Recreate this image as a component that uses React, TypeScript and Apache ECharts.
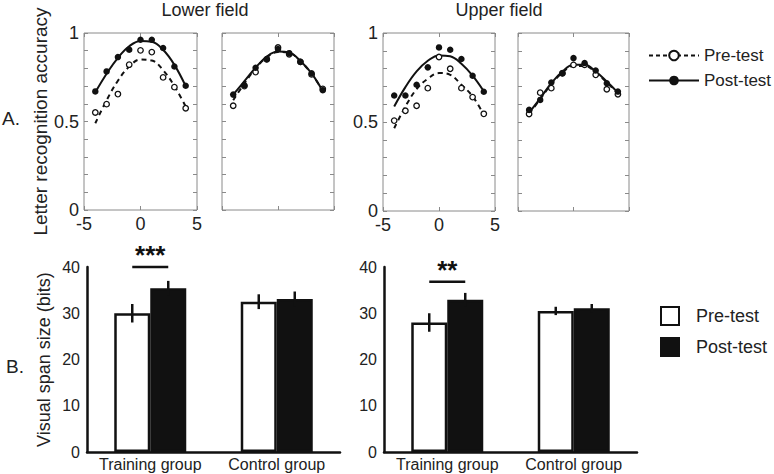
import React, { useEffect, useRef } from 'react';
import * as echarts from 'echarts';

const FONT = '"Liberation Sans", Arial, Helvetica, sans-serif';

// ---- Panel A data: letter recognition accuracy vs letter position ----
const letterPositions = [-4, -3, -2, -1, 0, 1, 2, 3, 4];

// Lower field, training group
const lowerTrainPre = [0.551, 0.598, 0.655, 0.821, 0.902, 0.892, 0.749, 0.694, 0.575];
const lowerTrainPost = [0.670, 0.783, 0.864, 0.906, 0.962, 0.962, 0.915, 0.811, 0.702];
const lowerTrainPreFit = [0.49, 0.62, 0.73, 0.81, 0.85, 0.845, 0.79, 0.70, 0.585];
const lowerTrainPostFit = [0.665, 0.77, 0.86, 0.925, 0.955, 0.95, 0.905, 0.82, 0.70];

// Lower field, control group
const lowerCtrlPre = [0.589, 0.700, 0.779, 0.852, 0.918, 0.880, 0.837, 0.766, 0.684];
const lowerCtrlPost = [0.652, 0.705, 0.804, 0.852, 0.909, 0.886, 0.837, 0.772, 0.677];
const lowerCtrlPreFit = [0.62, 0.715, 0.80, 0.862, 0.893, 0.888, 0.840, 0.770, 0.672];
const lowerCtrlPostFit = [0.652, 0.728, 0.804, 0.867, 0.895, 0.89, 0.842, 0.772, 0.671];

// Upper field, training group
const upperTrainPre = [0.508, 0.563, 0.591, 0.690, 0.865, 0.799, 0.690, 0.640, 0.546];
const upperTrainPost = [0.649, 0.649, 0.709, 0.807, 0.919, 0.906, 0.854, 0.760, 0.670];
const upperTrainPreFit = [0.465, 0.587, 0.685, 0.743, 0.775, 0.765, 0.709, 0.644, 0.540];
const upperTrainPostFit = [0.587, 0.696, 0.784, 0.844, 0.874, 0.869, 0.827, 0.760, 0.672];

// Upper field, control group
const upperCtrlPre = [0.545, 0.665, 0.690, 0.774, 0.821, 0.821, 0.765, 0.684, 0.656];
const upperCtrlPost = [0.568, 0.624, 0.722, 0.774, 0.859, 0.831, 0.789, 0.718, 0.671];
const upperCtrlPreFit = [0.545, 0.628, 0.712, 0.778, 0.815, 0.815, 0.779, 0.722, 0.660];
const upperCtrlPostFit = [0.553, 0.633, 0.718, 0.784, 0.821, 0.821, 0.784, 0.727, 0.665];

// ---- Panel B data: visual span size (bits) ----
const groups = ['Training group', 'Control group'];
const lowerSpanPre = [30.0, 32.5];
const lowerSpanPreErr = [2.0, 1.6];
const lowerSpanPost = [35.4, 33.1];
const lowerSpanPostErr = [1.6, 1.6];
const upperSpanPre = [28.0, 30.5];
const upperSpanPreErr = [2.0, 0.9];
const upperSpanPost = [32.9, 31.1];
const upperSpanPostErr = [1.5, 0.9];
const sigLevels = [40, 36.8];
const sigLabels = ['***', '**'];

const seriesLabels = ['Pre-test', 'Post-test'];

const pairs = (ys: number[]) => letterPositions.map((x, i) => [x, ys[i]]);

const topPanels = [
  { pre: lowerTrainPre, post: lowerTrainPost, preFit: lowerTrainPreFit, postFit: lowerTrainPostFit, labels: true },
  { pre: lowerCtrlPre, post: lowerCtrlPost, preFit: lowerCtrlPreFit, postFit: lowerCtrlPostFit, labels: false },
  { pre: upperTrainPre, post: upperTrainPost, preFit: upperTrainPreFit, postFit: upperTrainPostFit, labels: true },
  { pre: upperCtrlPre, post: upperCtrlPost, preFit: upperCtrlPreFit, postFit: upperCtrlPostFit, labels: false },
];

const topGridBoxes = [
  { left: 84, top: 33, width: 113, height: 177 },
  { left: 222, top: 33, width: 112, height: 177 },
  { left: 383, top: 33, width: 112, height: 178 },
  { left: 518, top: 33, width: 111, height: 178 },
];
const bottomGridBoxes = [
  { left: 87, top: 267, width: 253, height: 185 },
  { left: 384, top: 267, width: 253, height: 185 },
];

const BAR_W = 36;

function buildOption() {
  const grid: any[] = [];
  const xAxis: any[] = [];
  const yAxis: any[] = [];
  const series: any[] = [];

  const tickStyle = { color: '#8a8a8a', width: 1 };
  const yFmt = (v: number) =>
    Math.abs(v) < 1e-9 ? '0' : Math.abs(v - 0.5) < 1e-9 ? '0.5' : Math.abs(v - 1) < 1e-9 ? '1' : '';

  topPanels.forEach((p, i) => {
    grid.push({ ...topGridBoxes[i], show: true, borderColor: '#8a8a8a', borderWidth: 1, backgroundColor: 'transparent' });
    const xBase = {
      gridIndex: i, type: 'value', min: -5, max: 5, interval: 5,
      axisLine: { show: false, onZero: false }, splitLine: { show: false },
      axisTick: { inside: true, length: 4, lineStyle: tickStyle },
    };
    xAxis.push({ ...xBase, position: 'bottom',
      axisLabel: { show: p.labels, fontSize: 18, color: '#222', margin: 5, fontFamily: FONT } });
    xAxis.push({ ...xBase, position: 'top', axisLabel: { show: false } });
    const yBase = {
      gridIndex: i, type: 'value', min: 0, max: 1, interval: 0.1,
      axisLine: { show: false, onZero: false }, splitLine: { show: false },
      axisTick: { inside: true, length: 4, lineStyle: tickStyle },
    };
    yAxis.push({ ...yBase, position: 'left',
      name: i === 0 ? 'Letter recognition accuracy' : '',
      nameLocation: 'middle', nameRotate: 90, nameGap: 32,
      nameTextStyle: { fontSize: 19, color: '#222', fontFamily: FONT },
      axisLabel: { show: p.labels, formatter: yFmt, fontSize: 18, color: '#222', margin: 5, fontFamily: FONT } });
    yAxis.push({ ...yBase, position: 'right', axisLabel: { show: false } });

    const xi = 2 * i;
    const yi = 2 * i;
    series.push({
      name: 'preFit' + i, type: 'line', xAxisIndex: xi, yAxisIndex: yi,
      data: pairs(p.preFit), smooth: 0.4, showSymbol: false, symbol: 'none',
      lineStyle: { color: '#111', width: 2, type: [5, 4] }, z: 2,
    });
    series.push({
      name: 'postFit' + i, type: 'line', xAxisIndex: xi, yAxisIndex: yi,
      data: pairs(p.postFit), smooth: 0.4, showSymbol: false, symbol: 'none',
      lineStyle: { color: '#111', width: 2 }, z: 2,
    });
    series.push({
      name: 'prePts' + i, type: 'scatter', xAxisIndex: xi, yAxisIndex: yi,
      data: pairs(p.pre), symbol: 'circle', symbolSize: 5.5,
      itemStyle: { color: '#fff', borderColor: '#111', borderWidth: 1.3, opacity: 1 }, z: 3,
    });
    series.push({
      name: 'postPts' + i, type: 'scatter', xAxisIndex: xi, yAxisIndex: yi,
      data: pairs(p.post), symbol: 'circle', symbolSize: 6.5,
      itemStyle: { color: '#111', opacity: 1 }, z: 4,
    });
  });

  // legend dummies for panel A
  series.push({
    name: 'legPreA', type: 'line', xAxisIndex: 0, yAxisIndex: 0, data: [],
    symbol: 'circle', symbolSize: 7, lineStyle: { color: '#111', width: 1.5, type: [4, 3] },
    itemStyle: { color: '#fff', borderColor: '#111', borderWidth: 1.5 },
  });
  series.push({
    name: 'legPostA', type: 'line', xAxisIndex: 0, yAxisIndex: 0, data: [],
    symbol: 'circle', symbolSize: 8, lineStyle: { color: '#111', width: 2 },
    itemStyle: { color: '#111' },
  });

  const bottoms = [
    { pre: lowerSpanPre, preErr: lowerSpanPreErr, post: lowerSpanPost, postErr: lowerSpanPostErr },
    { pre: upperSpanPre, preErr: upperSpanPreErr, post: upperSpanPost, postErr: upperSpanPostErr },
  ];

  bottoms.forEach((b, k) => {
    const gi = 4 + k;
    grid.push({ ...bottomGridBoxes[k], show: false });
    xAxis.push({
      gridIndex: gi, type: 'category', data: groups,
      axisLine: { show: true, onZero: false, lineStyle: { color: '#111', width: 2.5 } },
      axisTick: { show: false }, splitLine: { show: false },
      axisLabel: { interval: 0, fontSize: 16, color: '#222', margin: 4, fontFamily: FONT },
    });
    yAxis.push({
      gridIndex: gi, type: 'value', min: 0, max: 40, interval: 10,
      name: k === 0 ? 'Visual span size (bits)' : '',
      nameLocation: 'middle', nameRotate: 90, nameGap: 34,
      nameTextStyle: { fontSize: 18, color: '#222', fontFamily: FONT },
      axisLine: { show: true, onZero: false, lineStyle: { color: '#111', width: 2.5 } },
      axisTick: { show: false }, splitLine: { show: false },
      axisLabel: { fontSize: 16, color: '#222', margin: 7, fontFamily: FONT },
    });
    const xi = 8 + k;
    const yi = 8 + k;
    series.push({
      name: 'preB', type: 'bar', xAxisIndex: xi, yAxisIndex: yi, data: b.pre,
      barWidth: BAR_W, barGap: '0%',
      itemStyle: { color: '#fff', borderColor: '#111', borderWidth: 2.5 },
    });
    series.push({
      name: 'postB', type: 'bar', xAxisIndex: xi, yAxisIndex: yi, data: b.post,
      barWidth: BAR_W, barGap: '0%',
      itemStyle: { color: '#111', borderColor: '#111', borderWidth: 2.5 },
    });
    const errData = [
      ...b.pre.map((v, i) => [i, v, b.preErr[i], -1]),
      ...b.post.map((v, i) => [i, v, b.postErr[i], 1]),
    ];
    series.push({
      name: 'err' + k, type: 'custom', xAxisIndex: xi, yAxisIndex: yi, data: errData, z: 5,
      renderItem: (_params: any, api: any) => {
        const c = api.value(0), v = api.value(1), e = api.value(2), side = api.value(3);
        const top = api.coord([c, v + e]);
        const bot = api.coord([c, v - e]);
        const dx = side * BAR_W / 2;
        return {
          type: 'line',
          shape: { x1: top[0] + dx, y1: top[1], x2: bot[0] + dx, y2: bot[1] },
          style: { stroke: '#111', lineWidth: 2.5 },
        };
      },
    });
    series.push({
      name: 'sig' + k, type: 'custom', xAxisIndex: xi, yAxisIndex: yi,
      data: [[0, sigLevels[k]]], z: 6, clip: false,
      renderItem: (_params: any, api: any) => {
        const pt = api.coord([api.value(0), api.value(1)]);
        return {
          type: 'group',
          children: [
            { type: 'line', shape: { x1: pt[0] - BAR_W / 2, y1: pt[1], x2: pt[0] + BAR_W / 2, y2: pt[1] },
              style: { stroke: '#111', lineWidth: 2.5 } },
            { type: 'text', x: pt[0], y: pt[1] - 12,
              style: { text: sigLabels[k], fill: '#111', font: `bold 26px ${FONT}`, textAlign: 'center', textVerticalAlign: 'middle' } },
          ],
        };
      },
    });
  });

  const nameMap: Record<string, string> = {
    legPreA: seriesLabels[0], legPostA: seriesLabels[1], preB: seriesLabels[0], postB: seriesLabels[1],
  };

  return {
    animation: false,
    backgroundColor: '#fff',
    textStyle: { fontFamily: FONT },
    grid, xAxis, yAxis, series,
    legend: [
      {
        data: ['legPreA', 'legPostA'], orient: 'vertical', left: 643, top: 42,
        itemWidth: 50, itemHeight: 12, itemGap: 8, selectedMode: false,
        formatter: (n: string) => nameMap[n],
        textStyle: { fontSize: 17, color: '#222', fontFamily: FONT },
      },
      {
        data: ['preB', 'postB'], orient: 'vertical', left: 655, top: 301,
        itemWidth: 18, itemHeight: 18, itemGap: 11, icon: 'rect', selectedMode: false,
        formatter: (n: string) => nameMap[n],
        textStyle: { fontSize: 18, color: '#222', fontFamily: FONT, padding: [0, 0, 0, 12] },
      },
    ],
    graphic: [
      { type: 'text', x: 205, y: 10, style: { text: 'Lower field', font: `18px ${FONT}`, fill: '#222', textAlign: 'center', textVerticalAlign: 'middle' } },
      { type: 'text', x: 499, y: 10, style: { text: 'Upper field', font: `18px ${FONT}`, fill: '#222', textAlign: 'center', textVerticalAlign: 'middle' } },
      { type: 'text', x: 11, y: 118, style: { text: 'A.', font: `19px ${FONT}`, fill: '#222', textAlign: 'center', textVerticalAlign: 'middle' } },
      { type: 'text', x: 15, y: 366, style: { text: 'B.', font: `19px ${FONT}`, fill: '#222', textAlign: 'center', textVerticalAlign: 'middle' } },
    ],
  };
}

export default function App() {
  const ref = useRef<HTMLDivElement>(null);
  useEffect(() => {
    document.body.style.margin = '0';
    const chart = echarts.init(ref.current!, null, { renderer: 'svg' });
    chart.setOption(buildOption() as any);
    return () => chart.dispose();
  }, []);
  return <div ref={ref} style={{ width: 774, height: 474 }} />;
}
